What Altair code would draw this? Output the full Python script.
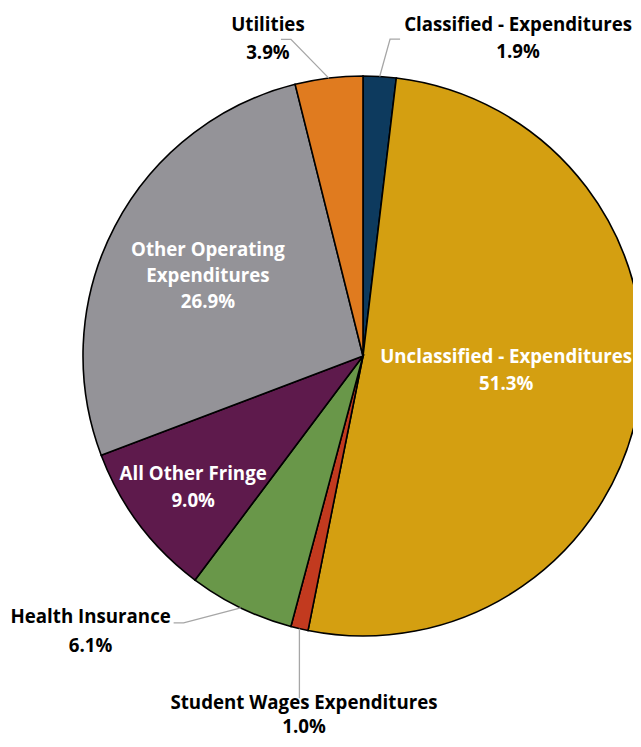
import math
import altair as alt
import pandas as pd

# ---- data ----
categories = [
    "Classified - Expenditures",
    "Unclassified - Expenditures",
    "Student Wages Expenditures",
    "Health Insurance",
    "All Other Fringe",
    "Other Operating Expenditures",
    "Utilities",
]
values = [1.9, 51.3, 1.0, 6.1, 9.0, 26.9, 3.9]
label_names = [
    ["Classified - Expenditures"],
    ["Unclassified - Expenditures"],
    ["Student Wages Expenditures"],
    ["Health Insurance"],
    ["All Other Fringe"],
    ["Other Operating", "Expenditures"],
    ["Utilities"],
]
colors = ["#0D3A5E", "#D49F11", "#C23A1F", "#699749", "#5E1A4C", "#949398", "#E07B1F"]
inside = [False, True, False, False, True, True, False]

# ---- layout (pie geometry and label placement) ----
CX, CY, R = 355, 348, 280
BIAS = 2.0  # font vertical centring correction
line_h = [27.5, 27, 24, 29, 27, 26, 27.5]
# label radius and pixel offset from polar point at slice mid-angle (block centre)
label_r = [320, 145, 370, 310, 210, 175, 320]
label_dx = [136, 0, 25, -137, -2, 0, -56]
label_dy = [0, -10, -3, -5, 3, -1, -1.5]
# leader line points relative to label block centre: (end, elbow) or None
leaders = [
    ((-118, 2.5), (-128, 2.5)),
    None,
    ((-4, -15), None),
    ((83, -7), (93, -7)),
    None,
    None,
    ((13, 2.5), (23, 2.5)),
]

total = sum(values)
rows, lab_rows, line_rows = [], [], []
cum = 0.0
for i, (c, v) in enumerate(zip(categories, values)):
    mid = (cum + v / 2) / total * 2 * math.pi
    cum += v
    rows.append({"cat": c, "value": v, "idx": i})
    txt_lines = label_names[i] + [f"{v:.1f}%"]
    n = len(txt_lines)
    lx = CX + label_r[i] * math.sin(mid) + label_dx[i]
    ly = CY - label_r[i] * math.cos(mid) + label_dy[i]
    for j, t in enumerate(txt_lines):
        lab_rows.append({
            "cat": c,
            "text": t,
            "x": lx,
            "y": ly + BIAS + (j - (n - 1) / 2) * line_h[i],
            "tcolor": "white" if inside[i] else "black",
        })
    if leaders[i]:
        end, elbow = leaders[i]
        ex, ey = CX + R * math.sin(mid), CY - R * math.cos(mid)
        pts = [(ex, ey)]
        if elbow:
            pts.append((lx + elbow[0], ly + elbow[1]))
            pts.append((lx + end[0], ly + end[1]))
        else:
            pts.append((ex, ly + end[1]))
        for k, (px, py) in enumerate(pts):
            line_rows.append({"cat": c, "k": k, "x": px, "y": py})

df = pd.DataFrame(rows)
lab = pd.DataFrame(lab_rows)
lines = pd.DataFrame(line_rows)

pie = alt.Chart(df).mark_arc(
    outerRadius=R, stroke="black", strokeWidth=1.6
).encode(
    theta=alt.Theta("value:Q", stack=True),
    order=alt.Order("idx:Q"),
    color=alt.Color("cat:N", scale=alt.Scale(domain=categories, range=colors), legend=None),
    x=alt.value(CX),
    y=alt.value(CY),
)

leader = alt.Chart(lines).mark_line(color="#A6A6A6", strokeWidth=1.3).encode(
    x=alt.X("x:Q", scale=None),
    y=alt.Y("y:Q", scale=None),
    detail="cat:N",
    order="k:Q",
)

text = alt.Chart(lab).mark_text(
    font="Open Sans", fontWeight="bold", fontSize=18.7,
    align="center", baseline="middle",
).encode(
    x=alt.X("x:Q", scale=None),
    y=alt.Y("y:Q", scale=None),
    text="text:N",
    color=alt.Color("tcolor:N", scale=None),
)

chart = alt.layer(pie, leader, text).properties(
    width=625, height=731, padding=0, autosize="none"
).configure_view(stroke=None)

chart.save("out.html", embed_options={"renderer": "svg", "actions": False})
